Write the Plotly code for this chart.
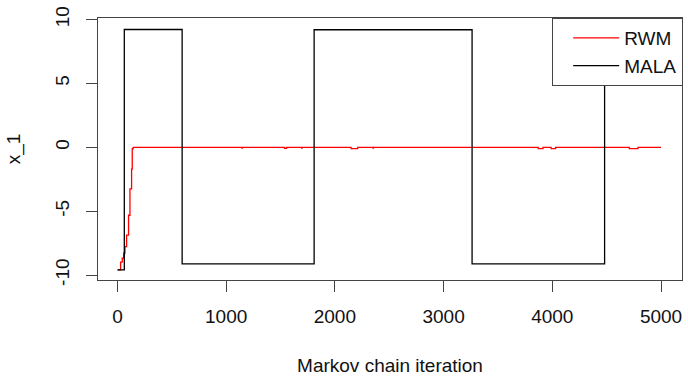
import plotly.graph_objects as go

# RWM chain (change points, held constant between them)
rwm_iter = [1, 29, 44, 57, 69, 84, 102, 115, 130, 136, 145,
            1146, 1150, 1537, 1556, 1694, 1698, 2149, 2210, 2351, 2355,
            3870, 3914, 3989, 4030, 4708, 4788, 5000]
rwm_val = [-9.59, -8.99, -8.68, -8.29, -7.78, -6.87, -5.32, -3.26, -1.71, -0.10, 0.0,
           -0.06, 0.0, -0.08, 0.0, -0.06, 0.0, -0.10, 0.0, -0.06, 0.0,
           -0.10, 0.0, -0.10, 0.0, -0.10, 0.0, 0.0]

# MALA chain (change points)
mala_iter = [1, 63, 595, 1809, 3262, 4481, 5000]
mala_val = [-9.60, 9.22, -9.12, 9.20, -9.12, 9.20, 9.20]

x_ticks = [0, 1000, 2000, 3000, 4000, 5000]
y_ticks = [-10, -5, 0, 5, 10]

FONT = "Liberation Sans, Arial, sans-serif"
AX = "#444444"

fig = go.Figure()
fig.add_trace(go.Scatter(x=rwm_iter, y=rwm_val, mode="lines", name="RWM",
                         line=dict(color="#ff0000", width=1.3, shape="hv")))
fig.add_trace(go.Scatter(x=mala_iter, y=mala_val, mode="lines", name="MALA",
                         line=dict(color="#000000", width=1.3, shape="hv")))

fig.update_layout(
    width=688, height=377,
    margin=dict(l=98, r=5, t=17.5, b=95),
    paper_bgcolor="white", plot_bgcolor="white",
    font=dict(family=FONT, size=19, color="#111111"),
    showlegend=True,
    legend=dict(x=1.002, y=1, xanchor="right", yanchor="top",
                bgcolor="white", bordercolor=AX, borderwidth=1,
                font=dict(family=FONT, size=19, color="#111111"),
                itemwidth=46, indentation=15, tracegroupgap=0),
    xaxis=dict(range=[-179, 5193], tickvals=x_ticks, ticktext=[str(v) for v in x_ticks],
               showgrid=False, zeroline=False, showline=True, mirror=True,
               linecolor=AX, linewidth=1, ticks="outside", ticklen=11,
               tickcolor=AX, tickwidth=1, ticklabelstandoff=8,
               title=dict(text="Markov chain iteration", standoff=32,
                          font=dict(family=FONT, size=19))),
    yaxis=dict(range=[-10.39, 10.12], tickvals=y_ticks, ticktext=[str(v) for v in y_ticks],
               tickangle=-90,
               showgrid=False, zeroline=False, showline=True, mirror=True,
               linecolor=AX, linewidth=1, ticks="outside", ticklen=11,
               tickcolor=AX, tickwidth=1, ticklabelstandoff=9,
               title=dict(text="x_1", standoff=26,
                          font=dict(family=FONT, size=19))),
)

fig.write_html("out.html")
